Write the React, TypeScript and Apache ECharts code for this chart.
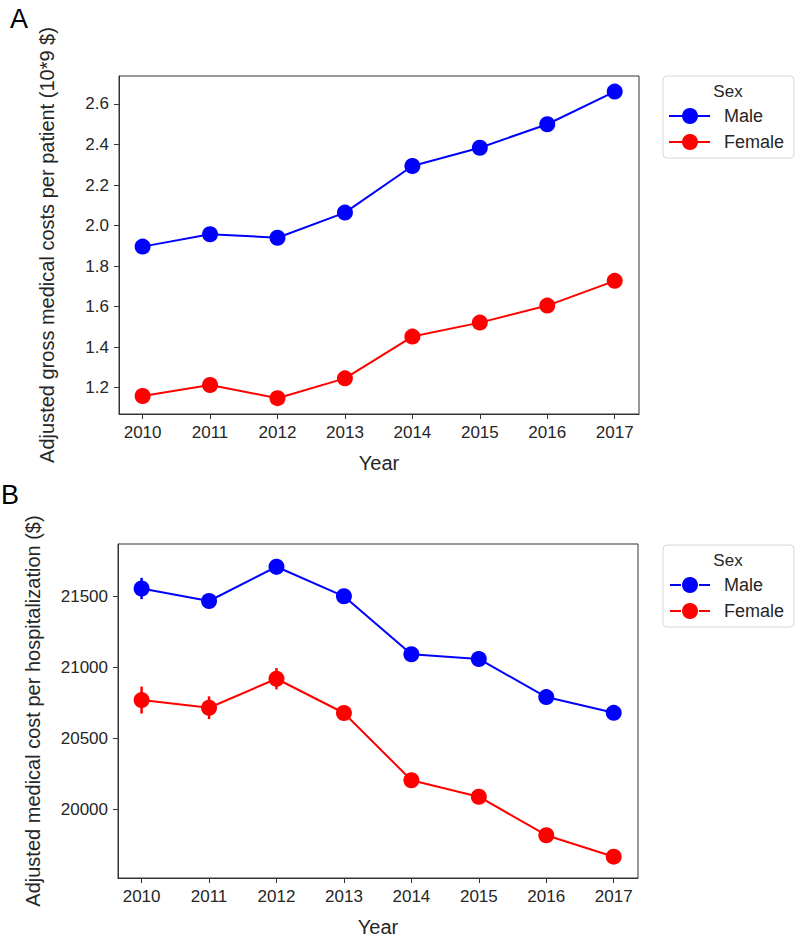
import React, { useEffect, useRef } from "react";
import * as echarts from "echarts";

const years = [2010, 2011, 2012, 2013, 2014, 2015, 2016, 2017];
const maleCostA = [1.896, 1.957, 1.94, 2.064, 2.294, 2.384, 2.5, 2.661];
const femaleCostA = [1.159, 1.213, 1.148, 1.246, 1.452, 1.521, 1.605, 1.727];
const maleCostB = [21553, 21465, 21706, 21498, 21090, 21057, 20789, 20678];
const femaleCostB = [20768, 20714, 20918, 20677, 20204, 20088, 19817, 19666];
const maleErrB = [75, 45, 55, 35, 30, 30, 30, 30];
const femaleErrB = [95, 80, 75, 50, 40, 40, 40, 40];
const ticksA = [1.2, 1.4, 1.6, 1.8, 2.0, 2.2, 2.4, 2.6];
const ticksB = [20000, 20500, 21000, 21500];
const sexLabels = ["Male", "Female"];
const colors = ["#0000ff", "#ff0000"];

const FONT = "'Liberation Sans', Arial, sans-serif";
const TXT = "#262626";

function legend(x: number, y: number, gapped: boolean): any[] {
  const els: any[] = [
    {
      type: "rect",
      shape: { x, y, width: 131, height: 82, r: 4 },
      style: { fill: "#fff", stroke: "#d6d6d6", lineWidth: 1 },
    },
    {
      type: "text",
      style: { x: x + 65, y: y + 15, text: "Sex", fill: TXT, font: `17px ${FONT}`, align: "center", verticalAlign: "middle" },
    },
  ];
  sexLabels.forEach((lab, i) => {
    const cy = y + 40 + i * 26;
    if (gapped) {
      els.push({ type: "line", shape: { x1: x + 7, y1: cy, x2: x + 18, y2: cy }, style: { stroke: colors[i], lineWidth: 2 } });
      els.push({ type: "line", shape: { x1: x + 36, y1: cy, x2: x + 47, y2: cy }, style: { stroke: colors[i], lineWidth: 2 } });
    } else {
      els.push({ type: "line", shape: { x1: x + 6, y1: cy, x2: x + 47, y2: cy }, style: { stroke: colors[i], lineWidth: 2 } });
    }
    els.push({ type: "circle", shape: { cx: x + 27, cy, r: 8 }, style: { fill: colors[i] } });
    els.push({
      type: "text",
      style: { x: x + 61, y: cy, text: lab, fill: TXT, font: `18px ${FONT}`, align: "left", verticalAlign: "middle" },
    });
  });
  return els;
}

export default function App() {
  const ref = useRef<HTMLDivElement>(null);
  useEffect(() => {
    document.body.style.margin = "0";
    const chart = echarts.init(ref.current!, null, { renderer: "svg" });
    const xAxisCommon = (gridIndex: number) => ({
      type: "value",
      gridIndex,
      min: 2009.65,
      max: 2017.36,
      name: "Year",
      nameLocation: "middle",
      nameGap: 39,
      nameTextStyle: { color: TXT, fontSize: 20, fontFamily: FONT },
      axisLine: { show: true, lineStyle: { color: "#333", width: 1 } },
      axisTick: { show: true, length: 5, customValues: years, lineStyle: { color: "#333" } },
      axisLabel: { customValues: years, color: TXT, fontSize: 17, fontFamily: FONT, margin: 10, formatter: (v: number) => String(v) },
      splitLine: { show: false },
    });
    const option: any = {
      animation: false,
      backgroundColor: "#fff",
      grid: [
        { left: 119, top: 76, width: 520, height: 338, show: true, borderColor: "#333", borderWidth: 1, backgroundColor: "transparent" },
        { left: 118, top: 544, width: 520, height: 338, show: true, borderColor: "#333", borderWidth: 1, backgroundColor: "transparent" },
      ],
      xAxis: [xAxisCommon(0), xAxisCommon(1)],
      yAxis: [
        {
          type: "value",
          gridIndex: 0,
          min: 1.07,
          max: 2.738,
          name: "Adjusted gross medical costs per patient (10*9 $)",
          nameLocation: "middle",
          nameGap: 62,
          nameTextStyle: { color: TXT, fontSize: 20, fontFamily: FONT },
          axisLine: { show: true, lineStyle: { color: "#333" } },
          axisTick: { show: true, length: 5, customValues: ticksA, lineStyle: { color: "#333" } },
          axisLabel: { customValues: ticksA, color: TXT, fontSize: 17, fontFamily: FONT, margin: 10, formatter: (v: number) => v.toFixed(1) },
          splitLine: { show: false },
        },
        {
          type: "value",
          gridIndex: 1,
          min: 19516,
          max: 21866,
          name: "Adjusted medical cost per hospitalization ($)",
          nameLocation: "middle",
          nameGap: 75,
          nameTextStyle: { color: TXT, fontSize: 20, fontFamily: FONT },
          axisLine: { show: true, lineStyle: { color: "#333" } },
          axisTick: { show: true, length: 5, customValues: ticksB, lineStyle: { color: "#333" } },
          axisLabel: { customValues: ticksB, color: TXT, fontSize: 17, fontFamily: FONT, margin: 10, formatter: (v: number) => String(v) },
          splitLine: { show: false },
        },
      ],
      series: [
        ...[maleCostA, femaleCostA].map((vals, i) => ({
          type: "line",
          name: sexLabels[i],
          xAxisIndex: 0,
          yAxisIndex: 0,
          data: vals.map((v, j) => [years[j], v]),
          symbol: "circle",
          symbolSize: 16,
          itemStyle: { color: colors[i] },
          lineStyle: { color: colors[i], width: 2 },
        })),
        ...[
          [maleCostB, maleErrB],
          [femaleCostB, femaleErrB],
        ].map(([vals, errs], i) => ({
          type: "custom",
          xAxisIndex: 1,
          yAxisIndex: 1,
          data: vals.map((v, j) => [years[j], v - errs[j], v + errs[j]]),
          renderItem: (params: any, api: any) => {
            const p1 = api.coord([api.value(0), api.value(1)]);
            const p2 = api.coord([api.value(0), api.value(2)]);
            return {
              type: "line",
              shape: { x1: p1[0], y1: p1[1], x2: p2[0], y2: p2[1] },
              style: { stroke: colors[i], lineWidth: 2.5 },
            };
          },
          z: 1,
        })),
        ...[maleCostB, femaleCostB].map((vals, i) => ({
          type: "line",
          name: sexLabels[i],
          xAxisIndex: 1,
          yAxisIndex: 1,
          data: vals.map((v, j) => [years[j], v]),
          symbol: "circle",
          symbolSize: 16,
          itemStyle: { color: colors[i] },
          lineStyle: { color: colors[i], width: 2 },
          z: 2,
        })),
      ],
      graphic: [
        { type: "text", style: { x: 10, y: 5, text: "A", fill: "#000", font: `27px ${FONT}` } },
        { type: "text", style: { x: 1, y: 481, text: "B", fill: "#000", font: `27px ${FONT}` } },
        ...legend(663, 76, false),
        ...legend(663, 545, true),
      ],
    };
    chart.setOption(option);
    return () => chart.dispose();
  }, []);
  return <div ref={ref} style={{ width: 797, height: 938 }} />;
}
